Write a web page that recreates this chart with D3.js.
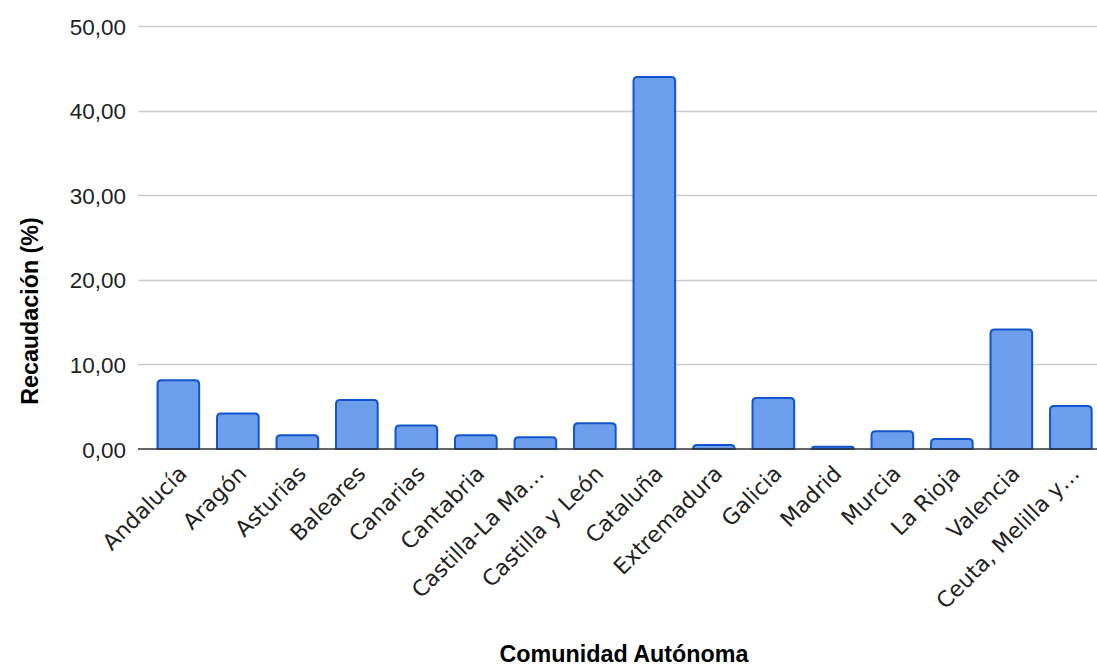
<!DOCTYPE html>
<html>
<head>
<meta charset="utf-8">
<script src="https://cdn.jsdelivr.net/npm/d3@7"></script>
<style>
  html, body { margin: 0; padding: 0; background: #fff; }
  svg { display: block; }
</style>
</head>
<body>
<svg id="chart" width="1097" height="666"></svg>
<script>
const categories = ["Andalucía", "Aragón", "Asturias", "Baleares", "Canarias", "Cantabria",
  "Castilla-La Ma…", "Castilla y León", "Cataluña", "Extremadura", "Galicia", "Madrid",
  "Murcia", "La Rioja", "Valencia", "Ceuta, Melilla y…"];
const values = [8.13, 4.19, 1.62, 5.80, 2.77, 1.62, 1.38, 3.04, 43.97, 0.47, 6.03, 0.28, 2.09, 1.18, 14.12, 5.09];
const yTicks = [0, 10, 20, 30, 40, 50];
const yTitle = "Recaudación (%)";
const xTitle = "Comunidad Autónoma";

const svg = d3.select("#chart");
const plot = { left: 138, right: 1097, top: 26, bottom: 449 };

const x = d3.scaleBand().domain(categories)
  .range([148.6, 1100.6]).paddingInner(0.3).paddingOuter(0.15);
const y = d3.scaleLinear().domain([0, 50]).range([plot.bottom, plot.top]);

const fmt = v => d3.format(".2f")(v).replace(".", ",");

// gridlines
svg.append("g").selectAll("line").data(yTicks.filter(t => t !== 0)).join("line")
  .attr("x1", plot.left).attr("x2", plot.right)
  .attr("y1", d => Math.round(y(d)) + 0.5).attr("y2", d => Math.round(y(d)) + 0.5)
  .attr("stroke", "#cccccc").attr("stroke-width", 1.3);

// y tick labels
const yAxis = d3.axisLeft(y).tickValues(yTicks).tickFormat(fmt).tickSize(0).tickPadding(12);
const ya = svg.append("g").attr("transform", `translate(${plot.left},0)`).call(yAxis);
ya.select(".domain").remove();
ya.selectAll("text").attr("font-family", "Liberation Sans, Arial, sans-serif")
  .attr("font-size", 22.5).attr("fill", "#222").attr("dy", "0.36em");

// bars
svg.append("g").selectAll("path").data(values).join("path")
  .attr("d", (d, i) => {
    const x0 = x(categories[i]), w = x.bandwidth();
    const y0 = y(d), y1 = y(0);
    const r = Math.min(4, (y1 - y0));
    return `M${x0},${y1} V${y0 + r} Q${x0},${y0} ${x0 + r},${y0} H${x0 + w - r} Q${x0 + w},${y0} ${x0 + w},${y0 + r} V${y1} Z`;
  })
  .attr("fill", "#6d9eeb").attr("stroke", "#1155cc").attr("stroke-width", 2);

// baseline
svg.append("line").attr("x1", plot.left).attr("x2", plot.right)
  .attr("y1", y(0)).attr("y2", y(0)).attr("stroke", "#333").attr("stroke-width", 1.5);

// x labels
const xAxis = d3.axisBottom(x).tickSize(0).tickPadding(0);
const xa = svg.append("g").attr("transform", `translate(0,${plot.bottom})`).call(xAxis);
xa.select(".domain").remove();
xa.selectAll("text")
  .attr("font-family", "DejaVu Sans, sans-serif").attr("font-size", 22).attr("fill", "#222")
  .attr("text-anchor", "end").attr("dy", 0).attr("y", 0)
  .attr("transform", "translate(10,26) rotate(-45)");

// axis titles
svg.append("text").attr("x", 624).attr("y", 662).attr("text-anchor", "middle")
  .attr("font-family", "Liberation Sans, Arial, sans-serif").attr("font-weight", "bold")
  .attr("font-size", 23.3).attr("fill", "#000").text(xTitle);
svg.append("text").attr("transform", "translate(38,311) rotate(-90)").attr("text-anchor", "middle")
  .attr("font-family", "Liberation Sans, Arial, sans-serif").attr("font-weight", "bold")
  .attr("font-size", 23.3).attr("fill", "#000").text(yTitle);
</script>
</body>
</html>
